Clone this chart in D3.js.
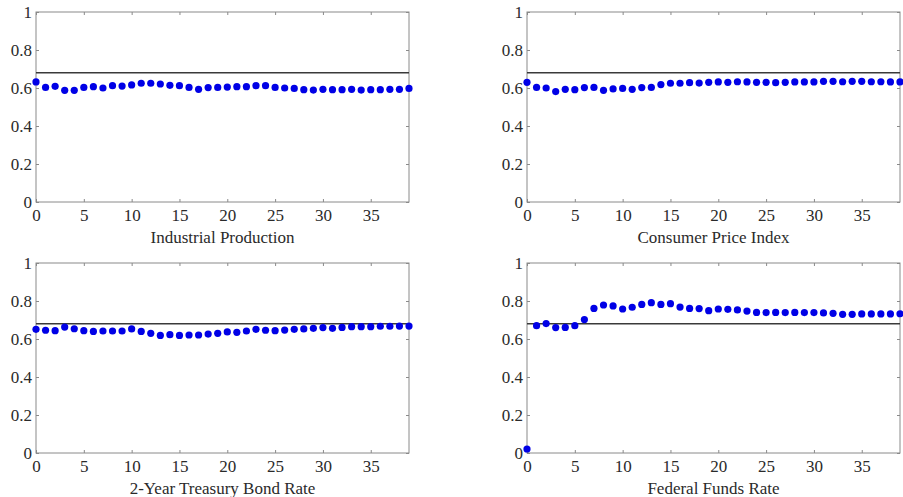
<!DOCTYPE html>
<html>
<head>
<meta charset="utf-8">
<script src="https://cdn.jsdelivr.net/npm/d3@7"></script>
<style>
  body { margin: 0; background: #fff; }
  svg { display: block; font-family: "Liberation Serif", "DejaVu Serif", serif; }
  svg text { font-family: "Liberation Serif", "DejaVu Serif", serif; }
</style>
</head>
<body>
<script>
// horizons 0..39
const horizons = d3.range(0, 40);
const refLevel = 0.68;

const industrialProduction = [0.632, 0.603, 0.609, 0.588, 0.588, 0.603, 0.607, 0.600, 0.612, 0.610,
  0.616, 0.625, 0.625, 0.621, 0.614, 0.612, 0.603, 0.593, 0.602, 0.603,
  0.605, 0.607, 0.607, 0.612, 0.612, 0.603, 0.600, 0.598, 0.591, 0.589,
  0.593, 0.591, 0.591, 0.593, 0.589, 0.591, 0.591, 0.593, 0.593, 0.598];

const consumerPriceIndex = [0.630, 0.603, 0.600, 0.581, 0.593, 0.591, 0.602, 0.603, 0.588, 0.595,
  0.598, 0.593, 0.602, 0.603, 0.618, 0.625, 0.625, 0.628, 0.626, 0.630,
  0.632, 0.630, 0.633, 0.632, 0.630, 0.630, 0.628, 0.630, 0.632, 0.632,
  0.632, 0.635, 0.635, 0.633, 0.635, 0.635, 0.633, 0.633, 0.632, 0.632];

const treasuryRate = [0.651, 0.646, 0.644, 0.663, 0.654, 0.644, 0.640, 0.642, 0.642, 0.642,
  0.653, 0.640, 0.630, 0.619, 0.623, 0.619, 0.621, 0.621, 0.626, 0.630,
  0.637, 0.635, 0.642, 0.651, 0.646, 0.644, 0.647, 0.651, 0.653, 0.656,
  0.660, 0.656, 0.661, 0.665, 0.665, 0.665, 0.667, 0.667, 0.668, 0.668];

const fedFundsRate = [0.021, 0.670, 0.681, 0.660, 0.661, 0.670, 0.702, 0.761, 0.779, 0.774,
  0.758, 0.767, 0.782, 0.791, 0.782, 0.786, 0.768, 0.761, 0.760, 0.749,
  0.758, 0.756, 0.753, 0.747, 0.740, 0.739, 0.740, 0.739, 0.740, 0.739,
  0.739, 0.737, 0.735, 0.730, 0.730, 0.732, 0.732, 0.732, 0.732, 0.733];

const panels = [
  { title: "Industrial Production", values: industrialProduction, left: 36, top: 12 },
  { title: "Consumer Price Index", values: consumerPriceIndex, left: 527, top: 12 },
  { title: "2-Year Treasury Bond Rate", values: treasuryRate, left: 36, top: 263 },
  { title: "Federal Funds Rate", values: fedFundsRate, left: 527, top: 263 }
];

const xTicks = [0, 5, 10, 15, 20, 25, 30, 35];
const yTicks = [0, 0.2, 0.4, 0.6, 0.8, 1];

const W = 903, H = 497;
const pw = 373, ph = 190;
const font = "Liberation Serif, DejaVu Serif, serif";

const svg = d3.select("body").append("svg")
  .attr("width", W)
  .attr("height", H);

panels.forEach(p => {
  const g = svg.append("g").attr("transform", `translate(${p.left},${p.top})`);

  const x = d3.scaleLinear().domain([0, 39]).range([0, pw]);
  const y = d3.scaleLinear().domain([0, 1]).range([ph, 0]);

  // box frame
  g.append("rect")
    .attr("width", pw).attr("height", ph)
    .attr("fill", "none")
    .attr("stroke", "#8a8a8a")
    .attr("stroke-width", 1);

  // bottom axis, ticks pointing inward
  const xa = g.append("g").attr("transform", `translate(0,${ph})`)
    .call(d3.axisBottom(x).tickValues(xTicks).tickSize(-3).tickPadding(7).tickFormat(d3.format("d")));
  // top mirror ticks
  const xt = g.append("g")
    .call(d3.axisTop(x).tickValues(xTicks).tickSize(-3).tickFormat(""));
  const ya = g.append("g")
    .call(d3.axisLeft(y).tickValues(yTicks).tickSize(-3).tickPadding(4).tickFormat(d => d === 0 || d === 1 ? d3.format("d")(d) : d3.format(".1f")(d)));
  const yr = g.append("g").attr("transform", `translate(${pw},0)`)
    .call(d3.axisRight(y).tickValues(yTicks).tickSize(-3).tickFormat(""));

  [xa, xt, ya, yr].forEach(a => {
    a.attr("font-family", font).attr("font-size", 17);
    a.select(".domain").remove();
    a.selectAll(".tick line").attr("stroke", "#8a8a8a");
    a.selectAll("text").attr("fill", "#2a2a2a");
  });

  // reference line
  g.append("line")
    .attr("x1", 0).attr("x2", pw)
    .attr("y1", y(refLevel)).attr("y2", y(refLevel))
    .attr("stroke", "#3a3a3a")
    .attr("stroke-width", 1.6);

  // points
  g.append("g").selectAll("circle")
    .data(p.values)
    .join("circle")
    .attr("cx", (d, i) => x(horizons[i]))
    .attr("cy", d => y(d))
    .attr("r", 3.6)
    .attr("fill", "#0000e6");

  // title under axis
  g.append("text")
    .attr("x", pw / 2)
    .attr("y", ph + 41)
    .attr("text-anchor", "middle")
    .attr("fill", "#2a2a2a")
    .attr("font-family", font)
    .attr("font-size", 17)
    .text(p.title);
});
</script>
</body>
</html>
